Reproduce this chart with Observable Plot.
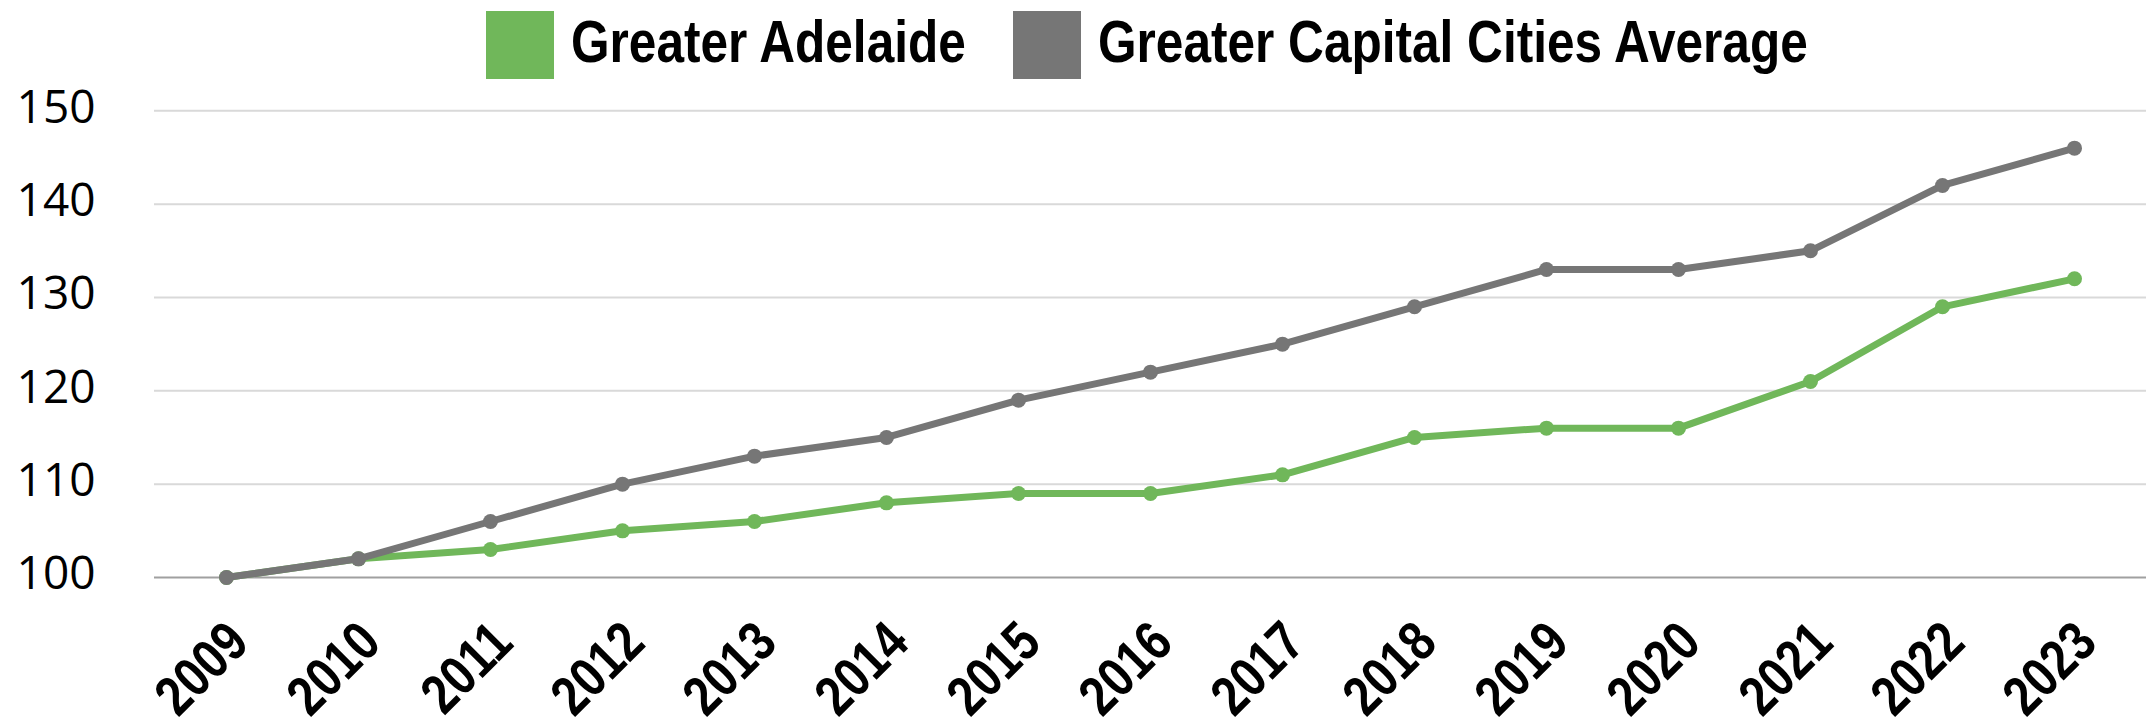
<!DOCTYPE html>
<html>
<head>
<meta charset="utf-8">
<script src="https://cdn.jsdelivr.net/npm/d3@7"></script>
<script src="https://cdn.jsdelivr.net/npm/@observablehq/plot@0.6"></script>
<style>
  html, body { margin: 0; padding: 0; background: #fff; }
  #legend { position: relative; height: 50px; width: 2146px; z-index: 1; }
  .item { position: absolute; top: 11px; height: 68px; display: flex; align-items: center; }
  .sw { width: 68px; height: 68px; margin-right: 17px; flex: none; }
  .lab { font-family: "Liberation Sans", Arial, sans-serif; font-weight: bold; font-size: 59px; color: #000; line-height: 1; margin-top: -6px; white-space: nowrap; transform: scaleX(0.84); transform-origin: left center; }
  #chart svg { display: block; }
</style>
</head>
<body>
<div id="legend"></div>
<div id="chart"></div>
<script>
const years = ["2009","2010","2011","2012","2013","2014","2015","2016","2017","2018","2019","2020","2021","2022","2023"];
const adelaide = [100,102,103,105,106,108,109,109,111,115,116,116,121,129,132];
const capitalAvg = [100,102,106,110,113,115,119,122,125,129,133,133,135,142,146];
const seriesNames = ["Greater Adelaide","Greater Capital Cities Average"];
const seriesColors = ["#70b75a","#767676"];
const yTicks = [100,110,120,130,140,150];

const legendLeft = [486, 1013];
const legend = document.getElementById("legend");
seriesNames.forEach((n, i) => {
  const it = document.createElement("div");
  it.className = "item";
  it.style.left = legendLeft[i] + "px";
  it.innerHTML = `<div class="sw" style="background:${seriesColors[i]}"></div><div class="lab">${n}</div>`;
  legend.appendChild(it);
});

const rowsA = years.map((y, i) => ({year: y, value: adelaide[i]}));
const rowsC = years.map((y, i) => ({year: y, value: capitalAvg[i]}));

const chart = Plot.plot({
  width: 2146,
  height: 677,
  marginLeft: 154,
  marginRight: 0,
  marginTop: 60.3,
  marginBottom: 150,
  x: {type: "point", domain: years, padding: 0.5, label: null},
  y: {domain: [100, 150], label: null},
  marks: [
    Plot.gridY(yTicks.filter(d => d > 100), {stroke: "#d9d9d9", strokeOpacity: 1, strokeWidth: 2}),
    Plot.ruleY([100], {stroke: "#a0a0a0", strokeWidth: 2}),
    Plot.axisY(yTicks, {tickSize: 0, tickPadding: 59, fontSize: 46, fontFamily: "'Open Sans', sans-serif", fill: "#000", dy: -3, label: null}),
    Plot.axisX({tickSize: 0, tickPadding: 55, tickRotate: -45, textAnchor: "end", lineAnchor: "middle", dx: 12, label: null,
      fontSize: 56, fontWeight: "bold", fontFamily: "'Liberation Sans', Arial, sans-serif", fill: "#000"}),
    Plot.line(rowsA, {x: "year", y: "value", stroke: seriesColors[0], strokeWidth: 7}),
    Plot.dot(rowsA, {x: "year", y: "value", fill: seriesColors[0], r: 7.5}),
    Plot.line(rowsC, {x: "year", y: "value", stroke: seriesColors[1], strokeWidth: 7}),
    Plot.dot(rowsC, {x: "year", y: "value", fill: seriesColors[1], r: 7.5})
  ]
});
// condense the bold x tick labels along their baseline (narrow font look)
d3.select(chart).selectAll('g[aria-label="x-axis tick label"] text').each(function() {
  const t = this.getAttribute("transform") || "";
  this.setAttribute("transform", t + " scale(0.83,1)");
});
document.getElementById("chart").appendChild(chart);
</script>
</body>
</html>
